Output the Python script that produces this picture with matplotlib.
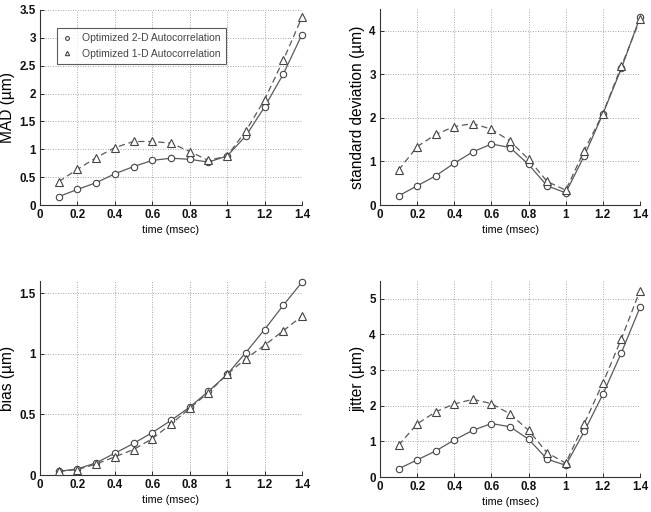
import matplotlib
matplotlib.use("Agg")
import matplotlib.pyplot as plt

plt.rcParams['font.family'] = ['Liberation Sans', 'DejaVu Sans']

time = [0.1, 0.2, 0.3, 0.4, 0.5, 0.6, 0.7, 0.8, 0.9, 1.0, 1.1, 1.2, 1.3, 1.4]

mad_2d = [0.15, 0.28, 0.40, 0.56, 0.69, 0.80, 0.84, 0.82, 0.77, 0.88, 1.24, 1.76, 2.35, 3.06]
mad_1d = [0.42, 0.64, 0.85, 1.03, 1.14, 1.14, 1.11, 0.96, 0.80, 0.88, 1.33, 1.89, 2.60, 3.37]

std_2d = [0.21, 0.44, 0.67, 0.96, 1.22, 1.40, 1.32, 0.93, 0.44, 0.28, 1.13, 2.09, 3.14, 4.31]
std_1d = [0.80, 1.34, 1.62, 1.80, 1.87, 1.74, 1.47, 1.05, 0.54, 0.34, 1.25, 2.10, 3.19, 4.26]

bias_2d = [0.03, 0.05, 0.10, 0.18, 0.26, 0.35, 0.45, 0.56, 0.69, 0.83, 1.01, 1.20, 1.40, 1.59]
bias_1d = [0.03, 0.045, 0.09, 0.15, 0.21, 0.30, 0.42, 0.55, 0.68, 0.83, 0.96, 1.07, 1.19, 1.31]

jit_2d = [0.23, 0.48, 0.73, 1.04, 1.31, 1.50, 1.41, 1.06, 0.50, 0.33, 1.28, 2.32, 3.49, 4.76]
jit_1d = [0.89, 1.49, 1.83, 2.05, 2.18, 2.06, 1.77, 1.31, 0.68, 0.39, 1.50, 2.64, 3.88, 5.23]

xticks = [0, 0.2, 0.4, 0.6, 0.8, 1, 1.2, 1.4]
xticklabels = ['0', '0.2', '0.4', '0.6', '0.8', '1', '1.2', '1.4']

fig = plt.figure(figsize=(6.51, 5.12), dpi=100)

W, H = 651, 512
def ax_at(l, r, t, b):
    return fig.add_axes([l / W, 1 - b / H, (r - l) / W, (b - t) / H])

panels = [
    (ax_at(40, 302, 10, 205), mad_2d, mad_1d, 'MAD (µm)', (0, 3.5),
     [0, 0.5, 1, 1.5, 2, 2.5, 3, 3.5], ['0', '0.5', '1', '1.5', '2', '2.5', '3', '3.5']),
    (ax_at(380, 640, 9, 205), std_2d, std_1d, 'standard deviation (µm)', (0, 4.5),
     [0, 1, 2, 3, 4], ['0', '1', '2', '3', '4']),
    (ax_at(40, 302, 281, 475), bias_2d, bias_1d, 'bias (µm)', (0, 1.6),
     [0, 0.5, 1, 1.5], ['0', '0.5', '1', '1.5']),
    (ax_at(380, 640, 281, 477), jit_2d, jit_1d, 'jitter (µm)', (0, 5.5),
     [0, 1, 2, 3, 4, 5], ['0', '1', '2', '3', '4', '5']),
]

lc = '#5a5a5a'
for i, (ax, y2, y1, ylab, ylim, yt, ytl) in enumerate(panels):
    l2, = ax.plot(time, y2, '-', color=lc, lw=0.9, marker='o', ms=4.6,
                  mfc='white', mec='#444444', mew=0.8, clip_on=False, zorder=3,
                  label='Optimized 2-D Autocorrelation')
    l1, = ax.plot(time, y1, '--', color=lc, lw=0.9, marker='^', ms=5.2,
                  mfc='white', mec='#444444', mew=0.8, clip_on=False, zorder=3,
                  dashes=(5, 3), label='Optimized 1-D Autocorrelation')
    ax.set_xlim(0, 1.4)
    ax.set_ylim(*ylim)
    ax.set_xticks(xticks)
    ax.set_xticklabels(xticklabels)
    ax.set_yticks(yt)
    ax.set_yticklabels(ytl)
    ax.grid(True, linestyle=(0, (1, 2)), color='#888888', lw=0.6)
    ax.set_axisbelow(True)
    for s in ['top', 'right']:
        ax.spines[s].set_visible(False)
    for s in ['left', 'bottom']:
        ax.spines[s].set_color('#333333')
        ax.spines[s].set_linewidth(0.8)
    ax.tick_params(direction='in', length=3, labelsize=8.4, colors='#111111',
                   width=0.6, pad=3)
    for lab in ax.get_xticklabels() + ax.get_yticklabels():
        lab.set_fontweight('bold')
    ax.set_xlabel('time (msec)', fontsize=7.8, labelpad=3)
    ax.set_ylabel(ylab, fontsize=11.2, labelpad=3)
    if i == 0:
        leg = ax.legend(handles=[l2, l1], loc='upper left',
                        bbox_to_anchor=(17 / 262, 1 - 18 / 195),
                        fontsize=7.5, frameon=True, fancybox=False,
                        handlelength=1.0, markerscale=0.6, borderpad=0.5,
                        labelspacing=0.55, handletextpad=0.9,
                        borderaxespad=0)
        leg.get_frame().set_edgecolor('#333333')
        leg.get_frame().set_linewidth(0.8)
        for h in leg.legend_handles:
            h.set_linestyle('none')
        for t in leg.get_texts():
            t.set_color('#444444')

fig.savefig('out.png', dpi=100)
